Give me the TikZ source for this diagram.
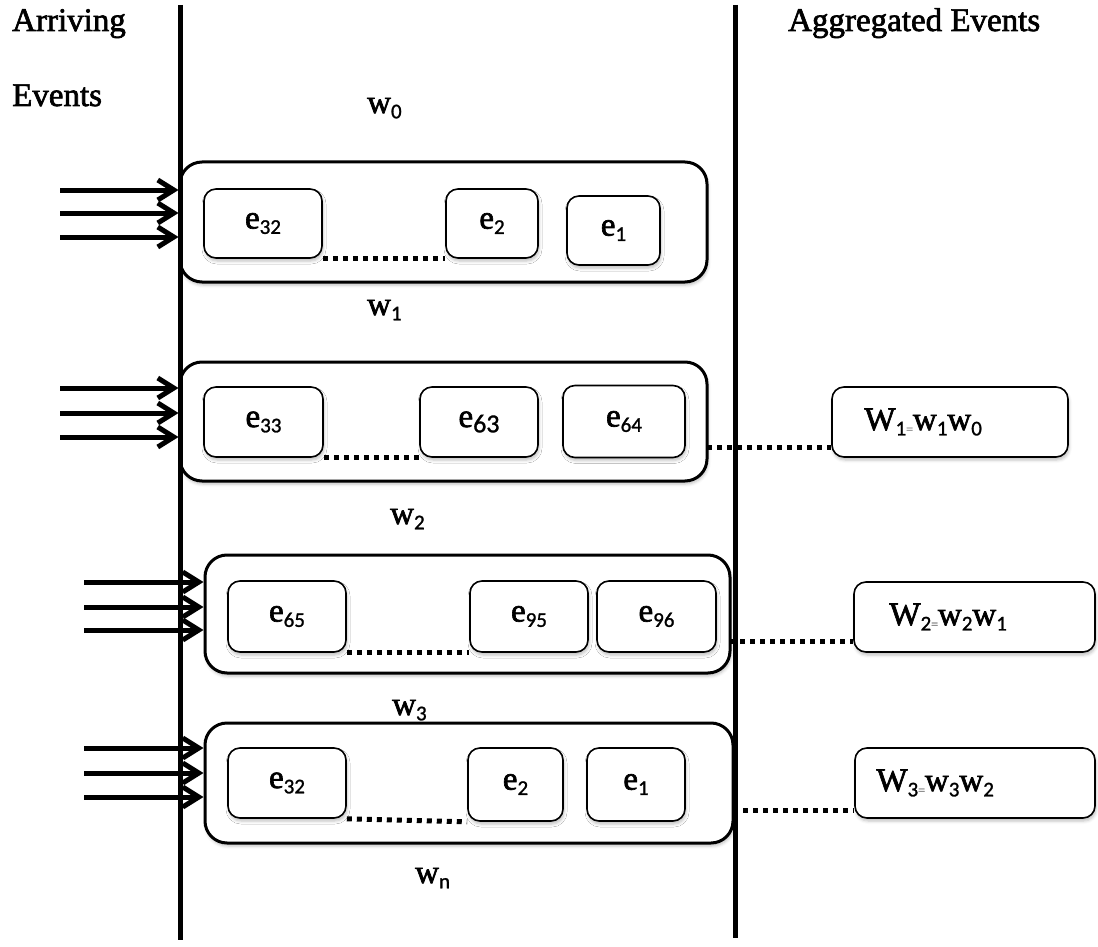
\documentclass[tikz,border=0pt]{standalone}
\usepackage{fontspec}
\setmainfont{Liberation Serif}[FakeBold=2]
\newfontfamily\subfont{Carlito}[FakeBold=1.2]
\usetikzlibrary{arrows.meta,shadows.blur}
% lowered index set in a sans face
\newcommand{\ix}[2][21]{\raisebox{-0.35ex}{\fontsize{#1}{#1}\selectfont\subfont #2}}
\newcommand{\eqsm}{\raisebox{-0.2ex}{\fontsize{12}{12}\selectfont\color{gray}=}}
\begin{document}
\begin{tikzpicture}[x=1pt,y=-1pt,
  lane/.style={line width=5pt},
  softshadow/.style={blur shadow={shadow xshift=1pt,shadow yshift=-3pt,
      shadow blur radius=3pt,shadow opacity=25}},
  window/.style={draw,line width=3pt,rounded corners=22pt,fill=white,softshadow},
  event/.style={draw,line width=1.6pt,rounded corners=12pt,fill=white,softshadow,
      font=\fontsize{33}{37}\selectfont},
  agg/.style={draw,line width=1.6pt,rounded corners=12pt,fill=white,softshadow},
  dots/.style={line width=5pt,dash pattern=on 5pt off 5pt},
  feed/.style={line width=5pt,-{Straight Barb[length=16pt,width=20pt]}},
  lbl/.style={font=\fontsize{33}{37}\selectfont,inner sep=0pt,anchor=base west},
]
\useasboundingbox (0,0) rectangle (1098,947);

% headings
\node[lbl] (hArr) at (12,31) {Arriving};
\node[lbl] (hEv) at (12,106) {Events};
\node[lbl] (hAgg) at (788,31) {Aggregated Events};

% window boxes
\node[window,minimum width=527pt,minimum height=120pt] (win1) at (443.5,222) {};
\node[window,minimum width=527pt,minimum height=119pt] (win2) at (443.5,421.5) {};
\node[window,minimum width=525pt,minimum height=118pt] (win3) at (467.5,614) {};
\node[window,minimum width=528pt,minimum height=120pt] (win4) at (469,783) {};

% the two time lanes
\coordinate (L1) at (180,5);  \coordinate (L2) at (180,940);
\coordinate (R1) at (735,5);  \coordinate (R2) at (735,938);
\draw[lane] (L1) -- (L2);
\draw[lane] (R1) -- (R2);

% window labels
\node[lbl] (w0) at (367,113) {w\ix{0}};
\node[lbl] (w1) at (367,315) {w\ix{1}};
\node[lbl] (w2) at (390,524) {w\ix{2}};
\node[lbl] (w3) at (392,715) {w\ix{3}};
\node[lbl] (wn) at (415,883) {w\ix{n}};

% events of window 1
\node[event,minimum width=118pt,minimum height=69pt] (r1a) at (263,223.5) {e\ix{32}};
\node[event,minimum width=92pt,minimum height=69pt] (r1b) at (492,223.5) {e\ix{2}};
\node[event,minimum width=93pt,minimum height=69pt] (r1c) at (613.5,230.5) {e\ix{1}};
% events of window 2
\node[event,minimum width=119pt,minimum height=70pt] (r2a) at (263.5,422) {e\ix{33}};
\node[event,minimum width=118pt,minimum height=70pt] (r2b) at (479,422) {e\ix[26]{63}};
\node[event,minimum width=122pt,minimum height=72pt] (r2c) at (624,421.5) {e\ix{64}};
% events of window 3
\node[event,minimum width=118pt,minimum height=71pt] (r3a) at (287,616.5) {e\ix{65}};
\node[event,minimum width=118pt,minimum height=71pt] (r3b) at (529,616.5) {e\ix{95}};
\node[event,minimum width=119pt,minimum height=71pt] (r3c) at (656.5,616.5) {e\ix{96}};
% events of window 4
\node[event,minimum width=118pt,minimum height=70pt] (r4a) at (287,783) {e\ix{32}};
\node[event,minimum width=95pt,minimum height=73pt] (r4b) at (515.5,784.5) {e\ix{2}};
\node[event,minimum width=98pt,minimum height=73pt] (r4c) at (636,784.5) {e\ix{1}};

% elided events
\draw[dots] (r1a.south east) -- (r1b.south west);
\draw[dots] (r2a.south east) -- (r2b.south west);
\draw[dots] (r3a.south east) -- (r3b.south west);
\draw[dots] (r4a.south east) -- (r4b.south west);

% aggregated windows
\node[agg,minimum width=236pt,minimum height=70pt,
  label={[lbl,anchor=west,xshift=33pt]west:{W\ix{1}\eqsm w\ix{1}w\ix{0}}}] (A1) at (950,422) {};
\node[agg,minimum width=241pt,minimum height=70pt,
  label={[lbl,anchor=west,xshift=36pt]west:{W\ix{2}\eqsm w\ix{2}w\ix{1}}}] (A2) at (974.5,617) {};
\node[agg,minimum width=240pt,minimum height=70pt,
  label={[lbl,anchor=west,xshift=22pt]west:{W\ix{3}\eqsm w\ix{3}w\ix{2}}}] (A3) at (975,783) {};

\coordinate (d2) at (707,447);
\coordinate (d3) at (730,641);
\coordinate (d4) at (733,810);
\draw[dots] (d2) -- (A1.west |- d2);
\draw[dots] (d3) -- (A2.west |- d3);
\draw[dots] (d4) -- (A3.west |- d4);

% arriving event streams
\foreach \n/\x/\y/\w in {a11/60/190/win1, a12/60/213/win1, a13/60/237/win1,
                        a21/60/388/win2, a22/60/413/win2, a23/60/437/win2,
                        a31/84/582/win3, a32/84/607/win3, a33/84/630/win3,
                        a41/84/748/win4, a42/84/773/win4, a43/84/797/win4}{
  \coordinate (\n) at (\x,\y);
  \draw[feed] (\n) -- (\w.west |- \n);
}
\end{tikzpicture}
\end{document}
